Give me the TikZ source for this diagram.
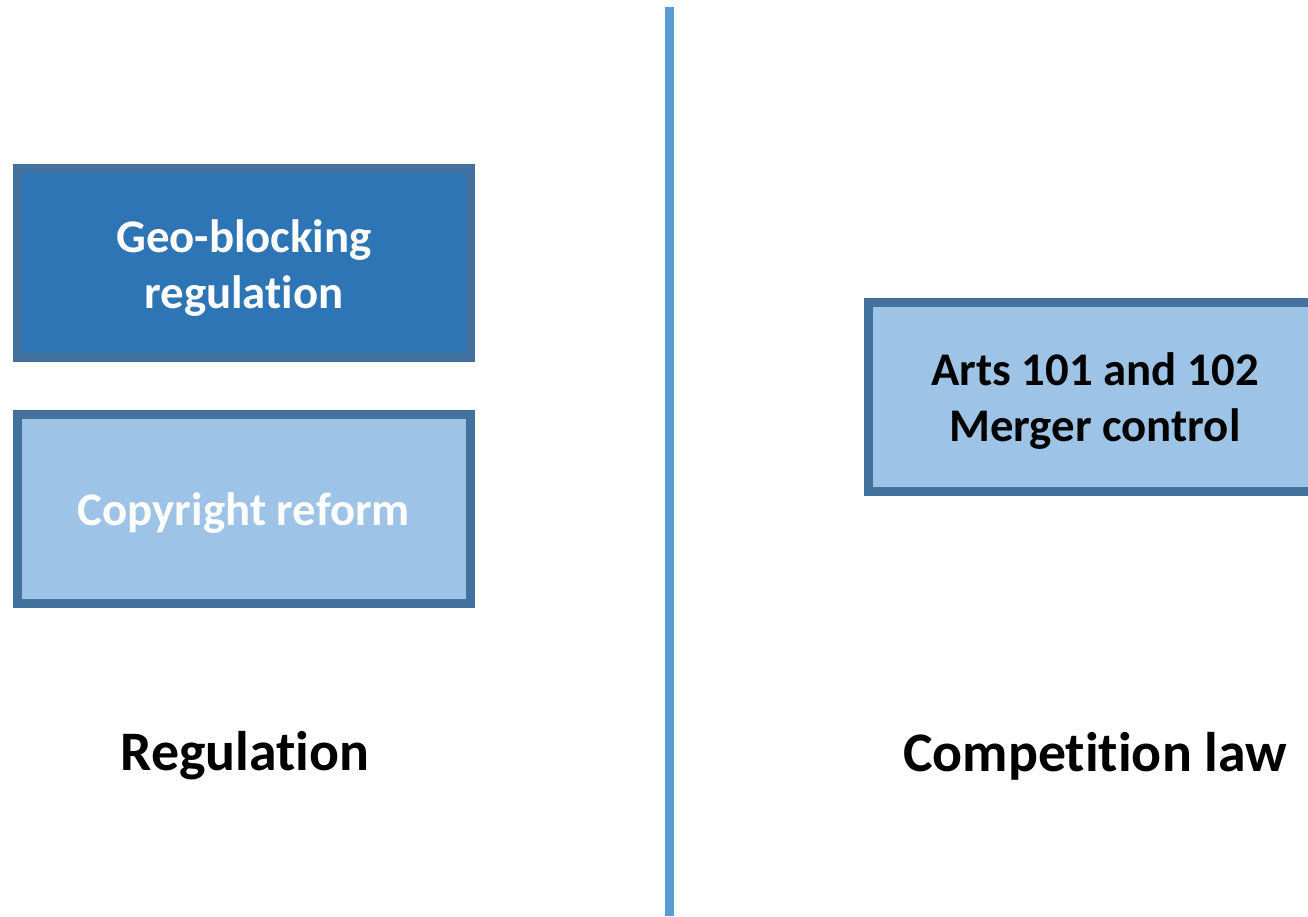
\documentclass[tikz,border=0pt]{standalone}
\usepackage{fontspec}
\setmainfont[RawFeature={-liga;-clig;-calt;-dlig}]{Carlito}
\definecolor{darkfill}{HTML}{2E75B6}
\definecolor{lightfill}{HTML}{9DC3E6}
\definecolor{boxborder}{HTML}{41719C}
\definecolor{divider}{HTML}{5B9BD5}
\newcommand{\lowered}[2]{\raisebox{-#1}[\height][\depth]{#2}}
\begin{document}
\begin{tikzpicture}[x=1pt,y=-1pt,
  box/.style={draw=boxborder,line width=9pt,minimum width=453pt,minimum height=189pt,inner sep=0pt,align=center,font=\bfseries\fontsize{46.8}{56}\selectfont},
  title/.style={font=\bfseries\fontsize{55.8}{66}\selectfont,inner sep=0pt}]
\useasboundingbox (0,0) rectangle (1308,916);
\clip (0,0) rectangle (1308,916);
\node[box,fill=darkfill,text=white] (geo) at (244,263) {\lowered{6pt}{\begin{tabular}{@{}c@{}}Geo-blocking\\regulation\end{tabular}}};
\node[box,fill=lightfill,text=white] (copy) at (244,508.5) {\lowered{5pt}{Copyright reform}};
\node[box,fill=lightfill,text=black] (arts) at (1095,396.5) {\lowered{6pt}{\begin{tabular}{@{}c@{}}Arts 101 and 102\\Merger control\end{tabular}}};
\node[title] (reg) at (245,756) {Regulation};
\node[title] (comp) at (1095,756) {Competition law};
\coordinate (top) at (669.5,7);
\coordinate (bot) at (669.5,916);
\draw[divider,line width=9pt] (top) -- (bot);
\end{tikzpicture}
\end{document}
